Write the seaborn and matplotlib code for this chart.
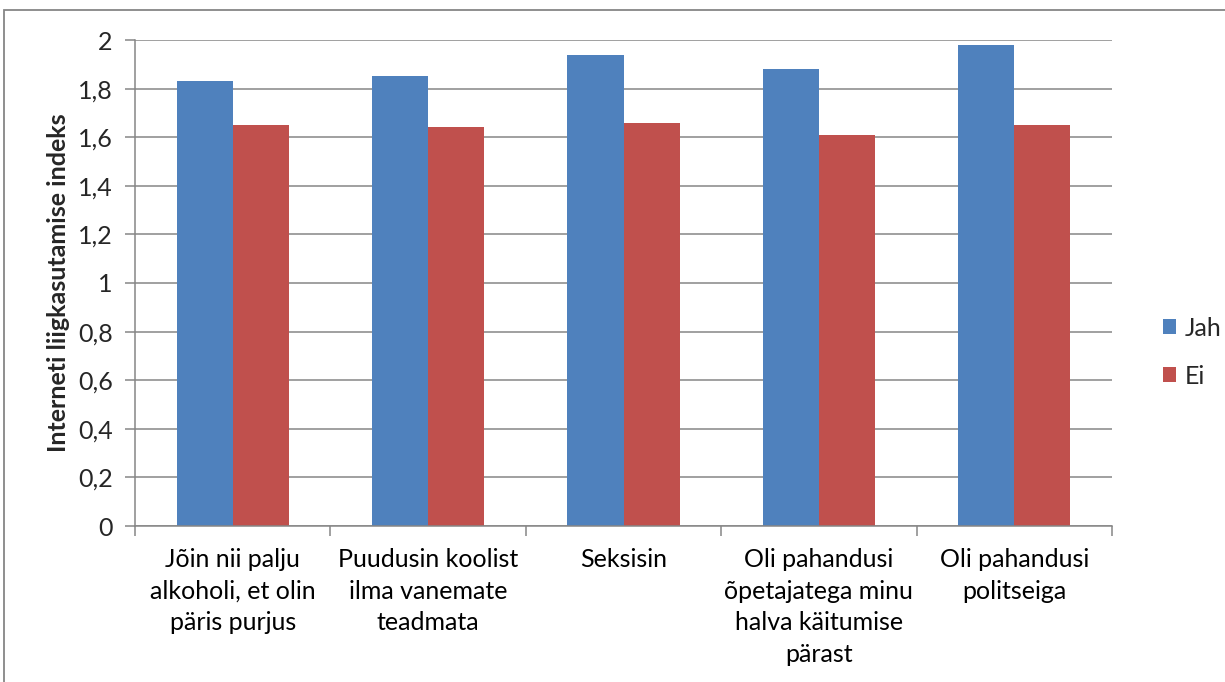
import matplotlib
matplotlib.use("Agg")
import matplotlib.pyplot as plt
from matplotlib.patches import Rectangle, Patch
from matplotlib.ticker import FixedLocator
import seaborn as sns
import pandas as pd

categories = [
    "Jõin nii palju\nalkoholi, et olin\npäris purjus",
    "Puudusin koolist\nilma vanemate\nteadmata",
    "Seksisin",
    "Oli pahandusi\nõpetajatega minu\nhalva käitumise\npärast",
    "Oli pahandusi\npolitseiga",
]
jah = [1.83, 1.85, 1.94, 1.88, 1.98]
ei = [1.65, 1.64, 1.66, 1.61, 1.65]
series = ["Jah", "Ei"]
y_label = "Interneti liigkasutamise indeks"

df = pd.DataFrame({
    "cat": categories * 2,
    "val": jah + ei,
    "grp": [series[0]] * len(jah) + [series[1]] * len(ei),
})

sns.set_theme(style="white")
plt.rcParams["font.family"] = ["Lato", "DejaVu Sans"]

FS = 18
W, H = 1225, 682
fig = plt.figure(figsize=(W / 100, H / 100), dpi=100)
ax = fig.add_axes([135 / W, 1 - 526 / H, (1112 - 135) / W, (526 - 40) / H])

colors = {"Jah": "#4F81BD", "Ei": "#C0504D"}
sns.barplot(data=df, x="cat", y="val", hue="grp", palette=colors,
            width=0.575, ax=ax, legend=False, linewidth=0, saturation=1)

grid_c = "#868686"
ax.set_xlim(-0.5, len(categories) - 0.5)
ax.set_ylim(0, 2)
yt = [i * 0.2 for i in range(11)]
ax.set_yticks(yt)
ax.set_yticklabels([("%g" % round(v, 1)).replace(".", ",") for v in yt])
ax.yaxis.grid(True, color=grid_c, linewidth=1.1)
ax.set_axisbelow(True)

ax.xaxis.set_minor_locator(FixedLocator([i - 0.5 for i in range(len(categories) + 1)]))
ax.tick_params(axis="x", which="major", length=0, pad=16, labelsize=FS, colors="black")
ax.tick_params(axis="x", which="minor", length=7, width=1.1, color=grid_c, direction="out",
               bottom=True)
ax.tick_params(axis="y", which="major", length=7, width=1.1, color=grid_c, direction="out",
               labelsize=FS, pad=9, left=True)
for lbl in ax.get_xticklabels():
    lbl.set_linespacing(1.45)
    lbl.set_va("top")

for s in ["top", "right"]:
    ax.spines[s].set_visible(False)
for s in ["left", "bottom"]:
    ax.spines[s].set_color(grid_c)
    ax.spines[s].set_linewidth(1.1)

ax.set_xlabel("")
ax.set_ylabel(y_label, fontsize=FS, fontweight="bold")
ax.yaxis.set_label_coords(-(135 - 70) / (1112 - 135), 0.5)

handles = [Patch(facecolor=colors[s], edgecolor="none") for s in series]
fig.legend(handles, series, loc="center left", bbox_to_anchor=(1140 / W, 1 - 352 / H),
           frameon=False, fontsize=FS, handlelength=0.55, handleheight=0.55,
           handletextpad=0.35, labelspacing=1.0)

fig.patches.append(Rectangle((4 / W, -0.1), 1.2, 1 - 10 / H + 0.1, transform=fig.transFigure,
                             fill=False, edgecolor=grid_c, linewidth=1.3))

fig.savefig("out.png", dpi=100)
